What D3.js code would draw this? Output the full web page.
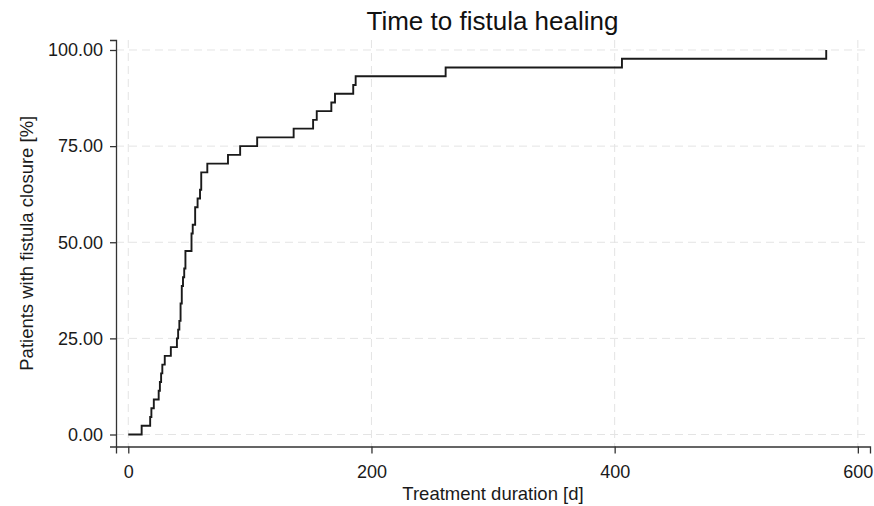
<!DOCTYPE html>
<html>
<head>
<meta charset="utf-8">
<script src="https://cdn.jsdelivr.net/npm/d3@7"></script>
<style>
  body { margin: 0; background: #fff; }
  svg { display: block; font-family: "Liberation Sans", Arial, sans-serif; }
</style>
</head>
<body>
<div id="chart"></div>
<script>
// Días de tratamiento hasta el cierre de cada fístula (n = 44)
const eventDays = [11, 18, 19, 21, 25, 26, 27, 28, 30, 35, 40, 41, 42, 43, 43, 44, 44, 45, 46, 47, 47,
    52, 52, 53, 55, 55, 57, 59, 60, 60, 65, 82, 92, 106, 136, 152, 155, 167, 170, 185, 187, 261, 406, 574];

// Porcentaje acumulado de pacientes con fístula cerrada en cada evento
const closedPct = [2.27, 4.55, 6.82, 9.09, 11.36, 13.64, 15.91, 18.18, 20.45, 22.73, 25.00, 27.27,
    29.55, 31.82, 34.09, 36.36, 38.64, 40.91, 43.18, 45.45, 47.73, 50.00, 52.27, 54.55, 56.82,
    59.09, 61.36, 63.64, 65.91, 68.18, 70.45, 72.73, 75.00, 77.27, 79.55, 81.82, 84.09, 86.36,
    88.64, 90.91, 93.18, 95.45, 97.73, 100.00];

// Marcas de los ejes
const xTicks = [0, 200, 400, 600];
const yTicks = [0, 25, 50, 75, 100];

const width = 874;
const height = 506;
const plot = { left: 116, right: 870, top: 40, bottom: 446.5 };

const svg = d3.select("#chart").append("svg")
    .attr("width", width)
    .attr("height", height);

const x = d3.scaleLinear().domain([-10.1, 610]).range([plot.left, plot.right]);
const y = d3.scaleLinear().domain([-3.12, 102.6]).range([plot.bottom, plot.top]);

////////////////////////////////////////////////////////////////////////////////
// Rejilla discontinua
function drawGrid() {
    const grid = svg.append("g")
        .attr("stroke", "#e4e4e4")
        .attr("stroke-width", 1)
        .attr("stroke-dasharray", "8,5");

    grid.selectAll(".hgrid")
        .data(yTicks)
        .enter().append("line")
        .attr("x1", plot.left).attr("x2", plot.right)
        .attr("y1", d => y(d)).attr("y2", d => y(d));

    grid.selectAll(".vgrid")
        .data(xTicks)
        .enter().append("line")
        .attr("y1", plot.top).attr("y2", plot.bottom)
        .attr("x1", d => x(d)).attr("x2", d => x(d));
}

////////////////////////////////////////////////////////////////////////////////
// Ejes con sus etiquetas
function drawAxes() {
    const xAxis = svg.append("g")
        .attr("transform", `translate(0,${plot.bottom})`)
        .call(d3.axisBottom(x).tickValues(xTicks).tickSizeOuter(0).tickSize(7).tickPadding(12));

    const yAxis = svg.append("g")
        .attr("transform", `translate(${plot.left},0)`)
        .call(d3.axisLeft(y).tickValues(yTicks).tickFormat(d3.format(".2f"))
            .tickSizeOuter(0).tickSize(6).tickPadding(7));

    [xAxis, yAxis].forEach(axis => {
        axis.select(".domain").attr("stroke", "#333").attr("stroke-width", 1.3);
        axis.selectAll(".tick line").attr("stroke", "#333").attr("stroke-width", 1.3);
        axis.selectAll(".tick text")
            .attr("fill", "#1a1a1a")
            .style("font-size", "18px")
            .style("font-family", "'Liberation Sans', Arial, sans-serif");
    });

    svg.append("text")
        .attr("x", (plot.left + plot.right) / 2)
        .attr("y", 500)
        .attr("text-anchor", "middle")
        .attr("fill", "#1a1a1a")
        .style("font-size", "18.5px")
        .text("Treatment duration [d]");

    svg.append("text")
        .attr("transform", `translate(33,${(plot.top + plot.bottom) / 2}) rotate(-90)`)
        .attr("text-anchor", "middle")
        .attr("fill", "#1a1a1a")
        .style("font-size", "18.5px")
        .text("Patients with fistula closure [%]");

    svg.append("text")
        .attr("x", 492.5)
        .attr("y", 30)
        .attr("text-anchor", "middle")
        .attr("fill", "#111")
        .style("font-size", "26px")
        .text("Time to fistula healing");
}

////////////////////////////////////////////////////////////////////////////////
// Curva escalonada de cierre acumulado
function drawCurve() {
    const points = [[0, 0]].concat(eventDays.map((d, i) => [d, closedPct[i]]));

    const line = d3.line()
        .x(d => x(d[0]))
        .y(d => y(d[1]))
        .curve(d3.curveStepAfter);

    svg.append("path")
        .datum(points)
        .attr("fill", "none")
        .attr("stroke", "#1a1a1a")
        .attr("stroke-width", 1.9)
        .attr("d", line);
}

drawGrid();
drawAxes();
drawCurve();
</script>
</body>
</html>
